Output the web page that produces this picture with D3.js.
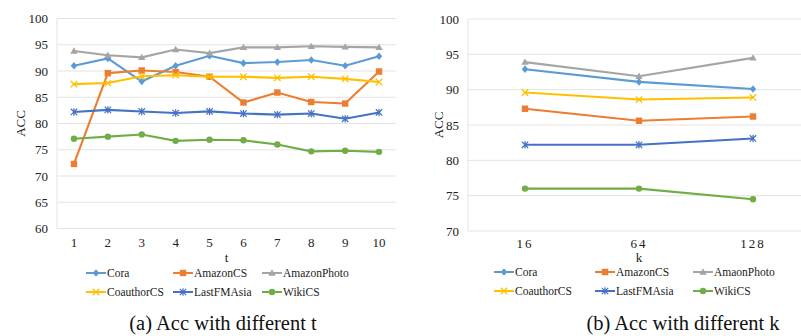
<!DOCTYPE html>
<html>
<head>
<meta charset="utf-8">
<script src="https://cdn.jsdelivr.net/npm/d3@7"></script>
<style>
  html, body { margin: 0; padding: 0; background: #fff; }
  svg { display: block; }
</style>
</head>
<body>
<svg id="chart" width="801" height="336"></svg>
<script>
// ---- data ----
const seriesNames = ["Cora", "AmazonCS", "AmazonPhoto", "CoauthorCS", "LastFMAsia", "WikiCS"];
const legendNamesB = ["Cora", "AmazonCS", "AmaonPhoto", "CoauthorCS", "LastFMAsia", "WikiCS"];
const colors = ["#5b9bd5", "#ed7d31", "#a5a5a5", "#ffc000", "#4472c4", "#70ad47"];
const markers = ["diamond", "square", "triangle", "cross", "asterisk", "circle"];

const tValues = [1, 2, 3, 4, 5, 6, 7, 8, 9, 10];
const coraT        = [91.0, 92.4, 88.0, 91.0, 92.9, 91.5, 91.7, 92.1, 91.0, 92.8];
const amazonCST    = [72.3, 89.6, 90.1, 89.8, 88.9, 84.0, 85.9, 84.1, 83.8, 89.9];
const amazonPhotoT = [93.8, 93.0, 92.6, 94.1, 93.4, 94.5, 94.5, 94.7, 94.6, 94.5];
const coauthorT    = [87.5, 87.7, 89.0, 89.2, 88.9, 88.9, 88.7, 88.9, 88.5, 87.9];
const lastfmT      = [82.2, 82.6, 82.3, 82.0, 82.3, 81.9, 81.7, 81.9, 80.9, 82.1];
const wikiT        = [77.1, 77.5, 77.9, 76.7, 76.9, 76.8, 76.0, 74.7, 74.8, 74.6];

const kValues = ["16", "64", "128"];
const coraK        = [92.9, 91.1, 90.1];
const amazonCSK    = [87.3, 85.6, 86.2];
const amazonPhotoK = [93.9, 91.9, 94.5];
const coauthorK    = [89.6, 88.6, 88.9];
const lastfmK      = [82.2, 82.2, 83.1];
const wikiK        = [76.0, 76.0, 74.5];

const yTicksA = [60, 65, 70, 75, 80, 85, 90, 95, 100];
const yTicksB = [70, 75, 80, 85, 90, 95, 100];

const FONT = "Liberation Serif";
const svg = d3.select("#chart");

function drawMarker(g, type, x, y, color) {
    const s = 3.2;
    if (type === "diamond") {
        g.append("path").attr("d", `M${x},${y-s-0.6}L${x+s},${y}L${x},${y+s+0.6}L${x-s},${y}Z`).attr("fill", color);
    } else if (type === "square") {
        g.append("rect").attr("x", x-s).attr("y", y-s).attr("width", 2*s).attr("height", 2*s).attr("fill", color);
    } else if (type === "triangle") {
        g.append("path").attr("d", `M${x},${y-s-0.5}L${x+s+0.5},${y+s-0.5}L${x-s-0.5},${y+s-0.5}Z`).attr("fill", color);
    } else if (type === "cross") {
        g.append("path").attr("d", `M${x-s},${y-s}L${x+s},${y+s}M${x-s},${y+s}L${x+s},${y-s}`)
            .attr("stroke", color).attr("stroke-width", 1.3);
    } else if (type === "asterisk") {
        g.append("path").attr("d", `M${x-s},${y-s}L${x+s},${y+s}M${x-s},${y+s}L${x+s},${y-s}M${x},${y-s-0.5}L${x},${y+s+0.5}`)
            .attr("stroke", color).attr("stroke-width", 1.2);
    } else {
        g.append("circle").attr("cx", x).attr("cy", y).attr("r", s).attr("fill", color);
    }
}

function txt(g, size) {
    return g.append("text").attr("font-family", FONT).attr("font-size", size).attr("fill", "#222");
}

function drawPanel(opt) {
    const x = d3.scaleBand().domain(opt.cats).range([opt.left, opt.right]);
    const y = d3.scaleLinear().domain(opt.yDomain).range([opt.bottom, opt.top]);
    const g = svg.append("g");

    // gridlines
    g.selectAll("line.grid").data(opt.yTicks).enter().append("line")
        .attr("x1", opt.left).attr("x2", opt.right)
        .attr("y1", d => y(d)).attr("y2", d => y(d))
        .attr("stroke", "#e3e3e3").attr("stroke-width", 1);
    g.append("line").attr("x1", opt.left).attr("x2", opt.left)
        .attr("y1", opt.top).attr("y2", opt.bottom)
        .attr("stroke", "#e3e3e3");

    // y tick labels
    opt.yTicks.forEach(d => {
        txt(g, 13).attr("x", opt.left - 9).attr("y", y(d) + 4.5)
            .attr("text-anchor", "end").text(d);
    });

    // x tick labels
    opt.cats.forEach(d => {
        txt(g, 13).attr("x", x(d) + x.bandwidth() / 2).attr("y", opt.xLabelY)
            .attr("text-anchor", "middle").attr("letter-spacing", opt.xSpacing || 0).text(d);
    });

    txt(g, 13).attr("x", (opt.left + opt.axisCenter) / 2).attr("y", 262)
        .attr("text-anchor", "middle").text(opt.xTitle);

    txt(g, 13).attr("transform", `translate(${opt.yTitleX},${(opt.top + opt.bottom) / 2}) rotate(-90)`)
        .attr("text-anchor", "middle").text("ACC");

    // lines
    const line = d3.line().x((d, i) => x(opt.cats[i]) + x.bandwidth() / 2).y(d => y(d));
    opt.series.forEach((vals, si) => {
        g.append("path").attr("d", line(vals)).attr("fill", "none")
            .attr("stroke", colors[si]).attr("stroke-width", 2.1);
        vals.forEach((v, i) => drawMarker(g, markers[si], x(opt.cats[i]) + x.bandwidth() / 2, y(v), colors[si]));
    });

    // legend
    opt.legendNames.forEach((name, i) => {
        const lx = opt.legendX[i % 3];
        const ly = opt.legendY[Math.floor(i / 3)];
        g.append("line").attr("x1", lx).attr("x2", lx + 20).attr("y1", ly).attr("y2", ly)
            .attr("stroke", colors[i]).attr("stroke-width", 2);
        drawMarker(g, markers[i], lx + 10, ly, colors[i]);
        txt(g, 11.5).attr("x", lx + 21).attr("y", ly + 4).text(name);
    });

    // caption
    txt(svg, 20.5).attr("x", opt.captionX).attr("y", 330)
        .attr("text-anchor", "middle").attr("fill", "#111").text(opt.caption);
}

drawPanel({
    cats: tValues.map(String), left: 57, right: 396, top: 18.5, bottom: 228.5,
    yDomain: [60, 100], yTicks: yTicksA, xTitle: "t", axisCenter: 396, yTitleX: 25,
    xLabelY: 247,
    series: [coraT, amazonCST, amazonPhotoT, coauthorT, lastfmT, wikiT],
    legendNames: seriesNames, legendX: [86, 173, 262], legendY: [273, 292],
    caption: "(a) Acc with different t", captionX: 223
});

drawPanel({
    cats: kValues, left: 468, right: 810, top: 19, bottom: 231,
    yDomain: [70, 100], yTicks: yTicksB, xTitle: "k", axisCenter: 810, yTitleX: 443,
    xSpacing: 2, xLabelY: 248,
    series: [coraK, amazonCSK, amazonPhotoK, coauthorK, lastfmK, wikiK],
    legendNames: legendNamesB, legendX: [494, 595, 693], legendY: [272, 291],
    caption: "(b) Acc with different k", captionX: 683
});
</script>
</body>
</html>
